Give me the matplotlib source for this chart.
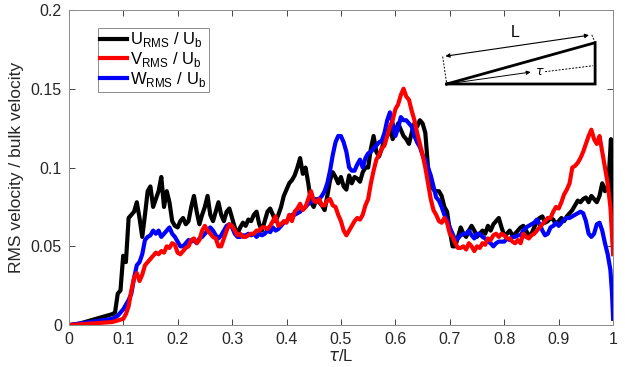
import matplotlib
matplotlib.use("Agg")
import matplotlib.pyplot as plt
import numpy as np

plt.rcParams['font.family'] = ['Liberation Sans', 'DejaVu Sans']

# ---- data ----
u_tau = [0, 0.02, 0.04, 0.06, 0.08, 0.085, 0.09, 0.095, 0.1, 0.105,
         0.11, 0.115, 0.12, 0.125, 0.13, 0.135, 0.14, 0.145, 0.15, 0.155,
         0.16, 0.165, 0.17, 0.175, 0.18, 0.185, 0.19, 0.195, 0.2, 0.205,
         0.21, 0.215, 0.22, 0.225, 0.23, 0.235, 0.24, 0.245, 0.25, 0.255,
         0.26, 0.265, 0.27, 0.275, 0.28, 0.285, 0.29, 0.295, 0.3, 0.305,
         0.31, 0.315, 0.32, 0.325, 0.33, 0.335, 0.34, 0.345, 0.35, 0.355,
         0.36, 0.365, 0.37, 0.375, 0.38, 0.385, 0.39, 0.395, 0.4, 0.405,
         0.41, 0.415, 0.42, 0.425, 0.43, 0.435, 0.44, 0.445, 0.45, 0.455,
         0.46, 0.465, 0.47, 0.475, 0.48, 0.485, 0.49, 0.495, 0.5, 0.505,
         0.51, 0.515, 0.52, 0.525, 0.53, 0.535, 0.54, 0.545, 0.55, 0.555,
         0.56, 0.565, 0.57, 0.575, 0.58, 0.585, 0.59, 0.595, 0.6, 0.605,
         0.61, 0.615, 0.62, 0.625, 0.63, 0.635, 0.64, 0.645, 0.65, 0.655,
         0.66, 0.665, 0.67, 0.675, 0.68, 0.685, 0.69, 0.695, 0.7, 0.705,
         0.71, 0.715, 0.72, 0.725, 0.73, 0.735, 0.74, 0.745, 0.75, 0.755,
         0.76, 0.765, 0.77, 0.775, 0.78, 0.785, 0.79, 0.795, 0.8, 0.805,
         0.81, 0.815, 0.82, 0.825, 0.83, 0.835, 0.84, 0.845, 0.85, 0.855,
         0.86, 0.865, 0.87, 0.875, 0.88, 0.885, 0.89, 0.895, 0.9, 0.905,
         0.91, 0.915, 0.92, 0.925, 0.93, 0.935, 0.94, 0.945, 0.95, 0.955,
         0.96, 0.965, 0.97, 0.975, 0.98, 0.985, 0.99, 0.993, 0.996, 1.0]
u_rms = [0, 0.001, 0.003, 0.005, 0.007, 0.008, 0.02, 0.022, 0.044, 0.04,
         0.068, 0.07, 0.072, 0.078, 0.068, 0.056, 0.07, 0.085, 0.088, 0.075,
         0.08, 0.085, 0.094, 0.075, 0.085, 0.078, 0.066, 0.063, 0.062, 0.066,
         0.068, 0.064, 0.066, 0.075, 0.082, 0.072, 0.064, 0.07, 0.075, 0.082,
         0.07, 0.066, 0.072, 0.078, 0.07, 0.066, 0.072, 0.074, 0.068, 0.062,
         0.058, 0.062, 0.065, 0.063, 0.067, 0.066, 0.07, 0.072, 0.064, 0.06,
         0.066, 0.072, 0.074, 0.07, 0.066, 0.07, 0.075, 0.082, 0.086, 0.09,
         0.092, 0.095, 0.1, 0.106, 0.096, 0.1, 0.09, 0.078, 0.075, 0.08,
         0.078, 0.076, 0.073, 0.082, 0.092, 0.097, 0.094, 0.09, 0.094, 0.088,
         0.086, 0.095, 0.09, 0.094, 0.093, 0.091, 0.097, 0.1, 0.1, 0.112,
         0.12, 0.11, 0.107, 0.112, 0.118, 0.12, 0.126, 0.118, 0.122, 0.128,
         0.124, 0.12, 0.118, 0.115, 0.122, 0.128, 0.126, 0.13, 0.128, 0.122,
         0.1, 0.09, 0.086, 0.085, 0.085, 0.082, 0.075, 0.072, 0.06, 0.05,
         0.05, 0.056, 0.062, 0.058, 0.056, 0.06, 0.063, 0.06, 0.056, 0.058,
         0.06, 0.058, 0.063, 0.06, 0.064, 0.066, 0.068, 0.062, 0.057, 0.058,
         0.06, 0.057, 0.058, 0.06, 0.062, 0.063, 0.06, 0.057, 0.058, 0.062,
         0.066, 0.068, 0.069, 0.065, 0.066, 0.068, 0.067, 0.064, 0.066, 0.068,
         0.066, 0.069, 0.071, 0.073, 0.076, 0.079, 0.078, 0.08, 0.081, 0.078,
         0.082, 0.08, 0.078, 0.082, 0.09, 0.085, 0.088, 0.1, 0.118, 0.048]

v_tau = [0, 0.02, 0.04, 0.06, 0.08, 0.09, 0.1, 0.105, 0.11, 0.115,
         0.12, 0.125, 0.13, 0.135, 0.14, 0.145, 0.15, 0.155, 0.16, 0.165,
         0.17, 0.175, 0.18, 0.185, 0.19, 0.195, 0.2, 0.205, 0.21, 0.215,
         0.22, 0.225, 0.23, 0.235, 0.24, 0.245, 0.25, 0.255, 0.26, 0.265,
         0.27, 0.275, 0.28, 0.285, 0.29, 0.295, 0.3, 0.305, 0.31, 0.315,
         0.32, 0.325, 0.33, 0.335, 0.34, 0.345, 0.35, 0.355, 0.36, 0.365,
         0.37, 0.375, 0.38, 0.385, 0.39, 0.395, 0.4, 0.405, 0.41, 0.415,
         0.42, 0.425, 0.43, 0.435, 0.44, 0.445, 0.45, 0.455, 0.46, 0.465,
         0.47, 0.475, 0.48, 0.485, 0.49, 0.495, 0.5, 0.505, 0.51, 0.515,
         0.52, 0.525, 0.53, 0.535, 0.54, 0.545, 0.55, 0.555, 0.56, 0.565,
         0.57, 0.575, 0.58, 0.585, 0.59, 0.595, 0.6, 0.605, 0.61, 0.615,
         0.62, 0.625, 0.63, 0.635, 0.64, 0.645, 0.65, 0.655, 0.66, 0.665,
         0.67, 0.675, 0.68, 0.685, 0.69, 0.695, 0.7, 0.705, 0.71, 0.715,
         0.72, 0.725, 0.73, 0.735, 0.74, 0.745, 0.75, 0.755, 0.76, 0.765,
         0.77, 0.775, 0.78, 0.785, 0.79, 0.795, 0.8, 0.805, 0.81, 0.815,
         0.82, 0.825, 0.83, 0.835, 0.84, 0.845, 0.85, 0.855, 0.86, 0.865,
         0.87, 0.875, 0.88, 0.885, 0.89, 0.895, 0.9, 0.905, 0.91, 0.915,
         0.92, 0.925, 0.93, 0.935, 0.94, 0.945, 0.95, 0.955, 0.96, 0.965,
         0.97, 0.975, 0.98, 0.985, 0.99, 0.995, 1.0]
v_rms = [0, 0.0005, 0.001, 0.0015, 0.002, 0.003, 0.004, 0.007, 0.012, 0.022,
         0.03, 0.033, 0.028, 0.032, 0.038, 0.04, 0.042, 0.044, 0.046, 0.045,
         0.047, 0.046, 0.05, 0.049, 0.052, 0.051, 0.046, 0.045, 0.047, 0.049,
         0.05, 0.054, 0.055, 0.052, 0.054, 0.06, 0.063, 0.06, 0.058, 0.056,
         0.055, 0.05, 0.05, 0.055, 0.06, 0.064, 0.063, 0.06, 0.057, 0.058,
         0.056, 0.056, 0.057, 0.058, 0.058, 0.06, 0.06, 0.062, 0.062, 0.061,
         0.063, 0.066, 0.069, 0.063, 0.064, 0.066, 0.065, 0.07, 0.066, 0.072,
         0.074, 0.077, 0.073, 0.075, 0.08, 0.085, 0.079, 0.078, 0.08, 0.076,
         0.076, 0.079, 0.08, 0.076, 0.075, 0.07, 0.066, 0.06, 0.057, 0.06,
         0.063, 0.066, 0.068, 0.067, 0.07, 0.076, 0.08, 0.09, 0.098, 0.105,
         0.108, 0.112, 0.114, 0.12, 0.126, 0.13, 0.137, 0.14, 0.146, 0.15,
         0.145, 0.143, 0.136, 0.13, 0.122, 0.115, 0.108, 0.1, 0.09, 0.08,
         0.073, 0.07, 0.066, 0.065, 0.068, 0.065, 0.058, 0.056, 0.052, 0.049,
         0.049, 0.05, 0.048, 0.052, 0.05, 0.047, 0.05, 0.049, 0.052, 0.051,
         0.055, 0.054, 0.057, 0.058, 0.056, 0.058, 0.057, 0.055, 0.055, 0.053,
         0.052, 0.054, 0.052, 0.058, 0.056, 0.055, 0.057, 0.058, 0.06, 0.062,
         0.064, 0.066, 0.068, 0.068, 0.072, 0.075, 0.074, 0.078, 0.083, 0.086,
         0.09, 0.1, 0.101, 0.103, 0.106, 0.11, 0.115, 0.12, 0.124, 0.118,
         0.115, 0.12, 0.11, 0.1, 0.09, 0.075, 0.045]

w_tau = [0, 0.02, 0.04, 0.06, 0.08, 0.09, 0.095, 0.1, 0.105, 0.11,
         0.115, 0.12, 0.125, 0.13, 0.135, 0.14, 0.145, 0.15, 0.155, 0.16,
         0.165, 0.17, 0.175, 0.18, 0.185, 0.19, 0.195, 0.2, 0.205, 0.21,
         0.215, 0.22, 0.225, 0.23, 0.235, 0.24, 0.245, 0.25, 0.255, 0.26,
         0.265, 0.27, 0.275, 0.28, 0.285, 0.29, 0.295, 0.3, 0.305, 0.31,
         0.315, 0.32, 0.325, 0.33, 0.335, 0.34, 0.345, 0.35, 0.355, 0.36,
         0.365, 0.37, 0.375, 0.38, 0.385, 0.39, 0.395, 0.4, 0.405, 0.41,
         0.415, 0.42, 0.425, 0.43, 0.435, 0.44, 0.445, 0.45, 0.455, 0.46,
         0.465, 0.47, 0.475, 0.48, 0.485, 0.49, 0.495, 0.5, 0.505, 0.51,
         0.515, 0.52, 0.525, 0.53, 0.535, 0.54, 0.545, 0.55, 0.555, 0.56,
         0.565, 0.57, 0.575, 0.58, 0.585, 0.59, 0.595, 0.6, 0.605, 0.61,
         0.615, 0.62, 0.625, 0.63, 0.635, 0.64, 0.645, 0.65, 0.655, 0.66,
         0.665, 0.67, 0.675, 0.68, 0.685, 0.69, 0.695, 0.7, 0.705, 0.71,
         0.715, 0.72, 0.725, 0.73, 0.735, 0.74, 0.745, 0.75, 0.755, 0.76,
         0.765, 0.77, 0.775, 0.78, 0.785, 0.79, 0.795, 0.8, 0.805, 0.81,
         0.815, 0.82, 0.825, 0.83, 0.835, 0.84, 0.845, 0.85, 0.855, 0.86,
         0.865, 0.87, 0.875, 0.88, 0.885, 0.89, 0.895, 0.9, 0.905, 0.91,
         0.915, 0.92, 0.925, 0.93, 0.935, 0.94, 0.945, 0.95, 0.955, 0.96,
         0.965, 0.97, 0.975, 0.98, 0.985, 0.99, 0.995, 0.998, 1.0]
w_rms = [0, 0.001, 0.002, 0.003, 0.004, 0.006, 0.008, 0.01, 0.013, 0.016,
         0.02, 0.03, 0.038, 0.04, 0.045, 0.054, 0.056, 0.057, 0.06, 0.058,
         0.06, 0.056, 0.058, 0.06, 0.062, 0.058, 0.056, 0.053, 0.05, 0.05,
         0.052, 0.054, 0.053, 0.054, 0.052, 0.055, 0.056, 0.058, 0.06, 0.062,
         0.06, 0.057, 0.055, 0.057, 0.06, 0.063, 0.064, 0.062, 0.058, 0.056,
         0.056, 0.057, 0.057, 0.058, 0.057, 0.058, 0.056, 0.058, 0.057, 0.058,
         0.06, 0.059, 0.062, 0.06, 0.061, 0.063, 0.065, 0.066, 0.068, 0.07,
         0.07, 0.071, 0.072, 0.074, 0.075, 0.077, 0.078, 0.079, 0.08, 0.08,
         0.082, 0.085, 0.09, 0.098, 0.108, 0.116, 0.12, 0.12, 0.116, 0.11,
         0.1, 0.098, 0.098, 0.102, 0.105, 0.1, 0.106, 0.109, 0.11, 0.112,
         0.114, 0.116, 0.117, 0.122, 0.13, 0.135, 0.128, 0.12, 0.125, 0.132,
         0.13, 0.13, 0.128, 0.126, 0.12, 0.116, 0.113, 0.108, 0.105, 0.1,
         0.095, 0.088, 0.081, 0.079, 0.075, 0.07, 0.067, 0.062, 0.058, 0.054,
         0.055, 0.057, 0.058, 0.058, 0.06, 0.057, 0.055, 0.058, 0.058, 0.056,
         0.055, 0.053, 0.052, 0.05, 0.052, 0.053, 0.053, 0.053, 0.055, 0.054,
         0.056, 0.056, 0.057, 0.057, 0.06, 0.062, 0.063, 0.064, 0.065, 0.067,
         0.064, 0.06, 0.057, 0.058, 0.062, 0.063, 0.065, 0.063, 0.065, 0.067,
         0.068, 0.068, 0.069, 0.07, 0.071, 0.072, 0.071, 0.066, 0.058, 0.056,
         0.058, 0.064, 0.065, 0.06, 0.052, 0.045, 0.035, 0.02, 0.004]

labels = [r"U$_\mathregular{RMS}$ / U$_\mathregular{b}$",
          r"V$_\mathregular{RMS}$ / U$_\mathregular{b}$",
          r"W$_\mathregular{RMS}$ / U$_\mathregular{b}$"]
xticks = [0, 0.1, 0.2, 0.3, 0.4, 0.5, 0.6, 0.7, 0.8, 0.9, 1]
xticklabels = ["0", "0.1", "0.2", "0.3", "0.4", "0.5", "0.6", "0.7", "0.8", "0.9", "1"]
yticks = [0, 0.05, 0.1, 0.15, 0.2]
yticklabels = ["0", "0.05", "0.1", "0.15", "0.2"]

fig = plt.figure(figsize=(6.25, 3.67), dpi=100)
ax = fig.add_axes([0.110, 0.114, 0.871, 0.859])

lw = 3.0
hu, = ax.plot(u_tau, u_rms, color="black", lw=lw)
hw, = ax.plot(w_tau, w_rms, color="#0000ff", lw=lw)
hv, = ax.plot(v_tau, v_rms, color="#ff0000", lw=lw)

ax.set_xlim(0, 1)
ax.set_ylim(0, 0.2)
ax.set_xticks(xticks)
ax.set_xticklabels(xticklabels)
ax.set_yticks(yticks)
ax.set_yticklabels(yticklabels)
ax.tick_params(direction="in", top=True, right=True, length=4, width=0.6,
               colors="#262626", labelsize=11.5, pad=5)
for s in ax.spines.values():
    s.set_color("#8c8c8c")
    s.set_linewidth(0.7)
ax.set_xlabel(r"$\tau$/L", fontsize=12, color="#262626", labelpad=1)
ax.set_ylabel("RMS velocity / bulk velocity", fontsize=12.5, color="#262626",
              labelpad=5)

leg = ax.legend([hu, hv, hw], labels, loc="upper left",
                bbox_to_anchor=(0.053, 0.943), borderaxespad=0,
                fancybox=False, edgecolor="#8c8c8c", fontsize=12,
                handlelength=1.6, handletextpad=0.2, labelspacing=0.05,
                borderpad=0.15, framealpha=1)
leg.get_frame().set_linewidth(0.7)

# inset sketch (axes fraction coords)
tr = ax.transAxes
ax.plot([0.6943, 0.9669, 0.9669, 0.6943], [0.765, 0.765, 0.896, 0.765],
        color="black", lw=2.0, transform=tr, solid_joinstyle="miter")
ax.annotate("", xy=(0.6869, 0.852), xytext=(0.9608, 0.921), xycoords=tr,
            arrowprops=dict(arrowstyle="<|-|>", color="black", lw=0.8,
                            mutation_scale=6))
ax.plot([0.6869, 0.6943], [0.852, 0.765], color="black", lw=0.7, ls=(0, (2, 1.5)),
        transform=tr)
ax.plot([0.9608, 0.9669], [0.921, 0.896], color="black", lw=0.7, ls=(0, (2, 1.5)),
        transform=tr)
ax.annotate("", xy=(0.8535, 0.804), xytext=(0.6943, 0.765), xycoords=tr,
            arrowprops=dict(arrowstyle="-|>", color="black", lw=0.7,
                            mutation_scale=6))
ax.plot([0.875, 0.963], [0.804, 0.823], color="black", lw=0.7, ls=(0, (2, 1.5)),
        transform=tr)
ax.text(0.866, 0.802, r"$\tau$", transform=tr, fontsize=9, ha="center", va="center")
ax.text(0.820, 0.927, "L", transform=tr, fontsize=11.5, ha="center", va="center")

fig.savefig("out.png", dpi=100)
